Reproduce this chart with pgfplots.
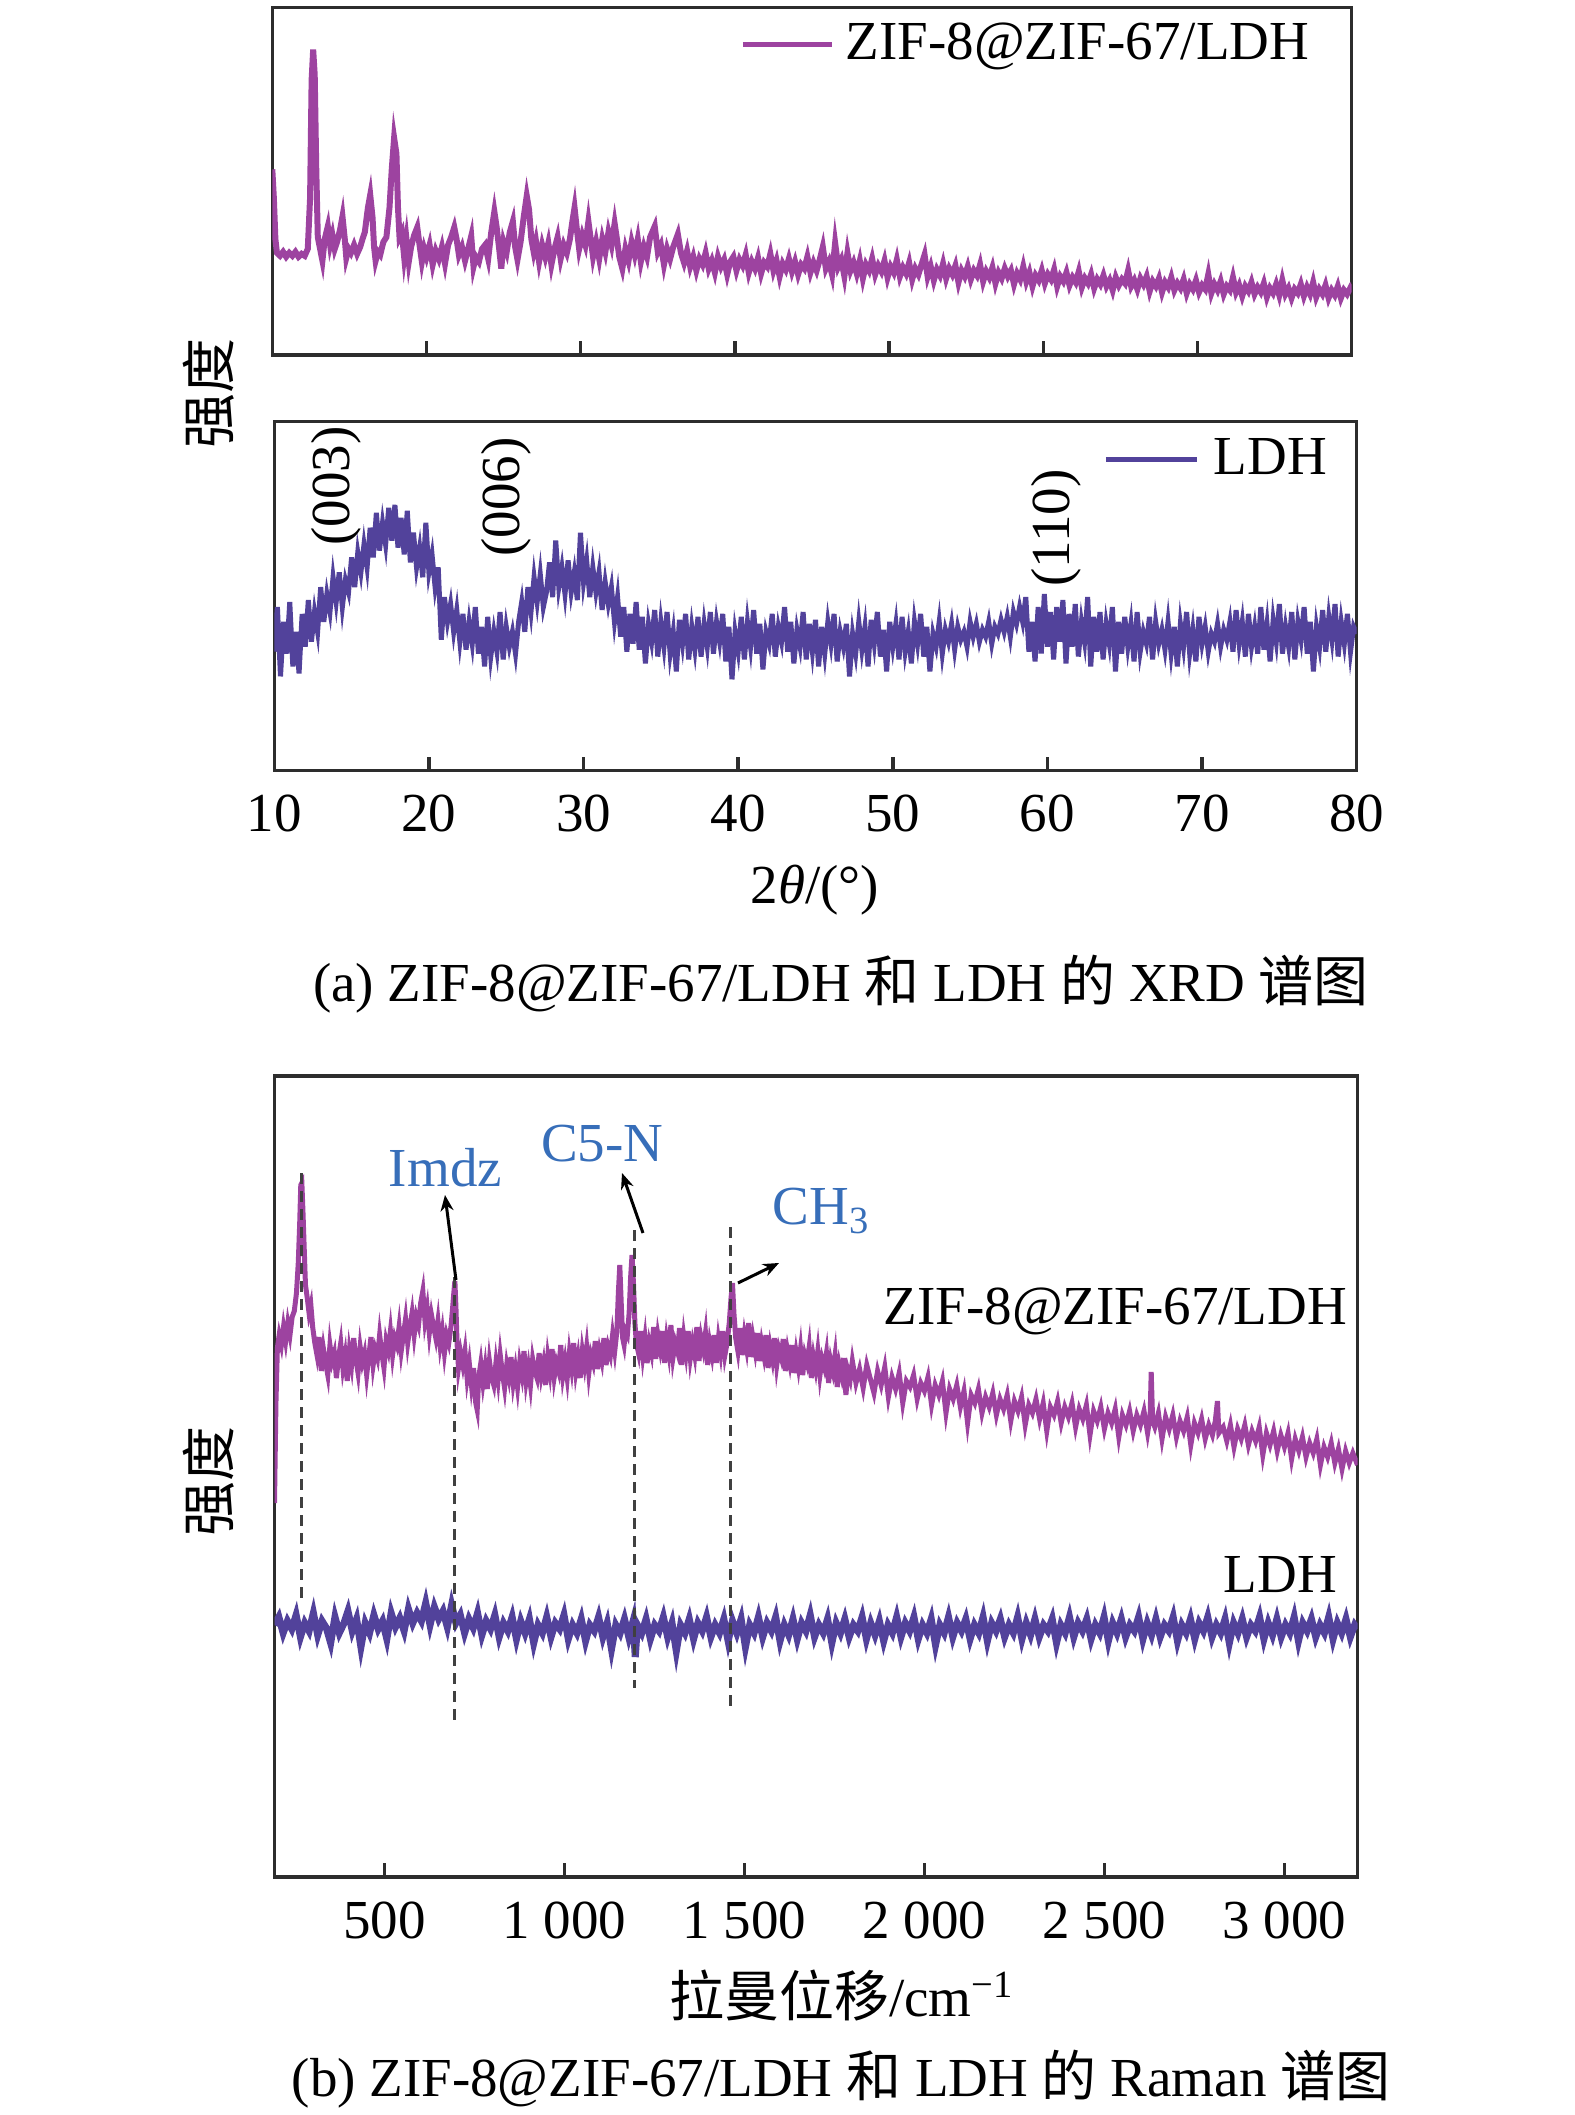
\documentclass[border=0pt]{standalone}
\usepackage{fontspec}
\setmainfont{Liberation Serif}
\newfontfamily\cjk{Noto Sans CJK SC}
\usepackage{pgfplots}
\pgfplotsset{compat=1.18}
\usetikzlibrary{arrows.meta}
\definecolor{zif}{RGB}{157,67,160}
\definecolor{ldh}{RGB}{82,66,155}
\definecolor{annb}{RGB}{55,110,185}
\definecolor{frame}{RGB}{45,45,45}
\pgfplotsset{
  common/.style={
    scale only axis,
    axis line style={frame, line width=0.7pt},
    ytick=\empty,
    tick align=inside,
    xtick pos=bottom,
    major tick length=2.8pt,
    tick style={frame, line width=0.7pt},
    tick label style={font=\fontsize{11}{13}\selectfont},
    anchor=south west,
  }
}
\begin{document}
\begin{tikzpicture}[font=\fontsize{11}{13}\selectfont]
\useasboundingbox (0,0) rectangle (315pt,-423pt);

% ---------- top XRD panel ----------
\begin{axis}[common, at={(54.46pt,-71.0pt)}, width=215.88pt, height=69.54pt,
  xmin=10, xmax=80, ymin=0, ymax=354,
  xtick={20,30,40,50,60,70}, xticklabels={}]
\addplot[zif, line width=1.2pt] coordinates {
(10.0,189)(10.1,160)(10.2,118)(10.3,104)(10.5,101)(10.7,105)(10.9,100)(11.1,104)(11.3,101)(11.5,105)(11.7,100)(11.9,103)(12.1,101)(12.3,108)
(12.45,160)(12.55,280)(12.65,311)(12.75,285)(12.85,190)(12.95,120)(13.1,108)(13.25,96)(13.4,118)(13.6,131)(13.75,112)(13.9,122)(14.05,108)
(14.2,115)(14.4,128)(14.55,141)(14.7,118)(14.8,99)(14.95,108)(15.1,104)(15.3,112)(15.5,103)(15.7,110)(15.85,118)(16.0,125)(16.2,150)(16.35,163)
(16.5,140)(16.6,110)(16.7,96)(16.85,105)(17.0,102)(17.2,115)(17.4,120)(17.6,150)(17.75,190)(17.9,221)(18.05,205)(18.15,150)(18.25,120)(18.4,125)
(18.55,100)(18.7,118)(18.85,95)(19.0,110)(19.2,122)(19.4,130)(19.55,112)(19.7,95)(19.85,108)(20.0,100)(20.2,112)(20.4,92)(20.6,106)(20.8,98)
(21.0,110)(21.2,93)(21.4,112)(21.6,120)(21.8,130)(21.95,118)(22.1,102)(22.3,110)(22.5,96)(22.7,108)(22.9,121)(23.05,90)(23.2,100)(23.4,95)
(23.6,108)(23.8,112)(24.0,98)(24.2,125)(24.4,146)(24.55,130)(24.7,110)(24.85,88)(25.0,115)(25.2,105)(25.4,125)(25.6,136)(25.75,110)(25.9,97)
(26.1,115)(26.3,140)(26.5,162)(26.65,148)(26.8,118)(26.95,105)(27.1,116)(27.3,95)(27.5,112)(27.7,100)(27.9,114)(28.1,92)(28.3,108)(28.5,120)
(28.7,98)(28.9,112)(29.1,104)(29.3,118)(29.45,135)(29.6,150)(29.75,128)(29.9,108)(30.1,122)(30.3,112)(30.5,136)(30.65,118)(30.8,100)(31.0,115)
(31.2,98)(31.4,118)(31.6,105)(31.8,125)(32.0,112)(32.2,134)(32.35,118)(32.5,100)(32.7,88)(32.9,108)(33.1,96)(33.3,115)(33.5,102)(33.7,118)
(33.9,95)(34.1,110)(34.3,100)(34.5,120)(34.8,131)(35.0,105)(35.2,112)(35.4,92)(35.6,108)(35.8,98)(36.0,110)(36.3,123)(36.5,104)(36.7,94)
(36.9,106)(37.1,90)(37.3,100)(37.5,86)(37.7,98)(37.9,92)(38.1,104)(38.3,88)(38.5,96)(38.7,84)(38.9,100)(39.1,90)(39.3,97)(39.5,82)(39.7,95)
(39.9,100)(40.1,86)(40.3,97)(40.5,91)(40.7,102)(40.9,84)(41.1,95)(41.3,88)(41.5,99)(41.7,83)(41.9,94)(42.1,90)(42.3,103)(42.5,86)(42.7,96)
(42.9,80)(43.1,93)(43.3,87)(43.5,98)(43.7,85)(43.9,95)(44.1,82)(44.3,92)(44.5,88)(44.7,100)(44.9,84)(45.1,94)(45.3,86)(45.5,97)(45.7,110)
(45.9,88)(46.1,95)(46.3,82)(46.5,114)(46.7,90)(46.9,97)(47.1,80)(47.3,104)(47.5,86)(47.7,94)(47.9,83)(48.1,96)(48.3,78)(48.5,92)(48.7,86)
(48.9,98)(49.1,82)(49.3,91)(49.5,85)(49.7,96)(49.9,79)(50.1,90)(50.3,84)(50.5,97)(50.7,80)(50.9,89)(51.1,83)(51.3,94)(51.5,77)(51.7,88)
(51.9,82)(52.1,92)(52.3,102)(52.5,80)(52.7,90)(52.9,76)(53.1,87)(53.3,81)(53.5,93)(53.7,78)(53.9,88)(54.1,82)(54.3,91)(54.5,74)(54.7,86)
(54.9,80)(55.1,90)(55.3,77)(55.5,86)(55.7,81)(55.9,92)(56.1,75)(56.3,85)(56.5,79)(56.7,89)(56.9,73)(57.1,84)(57.3,78)(57.5,88)(57.7,80)
(57.9,86)(58.1,72)(58.3,83)(58.5,77)(58.7,90)(58.9,75)(59.1,84)(59.3,70)(59.5,81)(59.7,76)(59.9,86)(60.1,73)(60.3,82)(60.5,77)(60.7,87)
(60.9,70)(61.1,80)(61.3,75)(61.5,84)(61.7,71)(61.9,79)(62.1,74)(62.3,85)(62.5,69)(62.7,78)(62.9,73)(63.1,82)(63.3,68)(63.5,77)(63.7,72)
(63.9,81)(64.1,70)(64.3,76)(64.5,66)(64.7,79)(64.9,71)(65.1,77)(65.3,73)(65.5,86)(65.7,70)(65.9,76)(66.1,67)(66.3,78)(66.5,72)(66.7,80)
(66.9,65)(67.1,75)(67.3,70)(67.5,78)(67.7,64)(67.9,74)(68.1,69)(68.3,79)(68.5,66)(68.7,73)(68.9,68)(69.1,77)(69.3,63)(69.5,72)(69.7,67)
(69.9,76)(70.1,64)(70.3,71)(70.5,67)(70.7,82)(70.9,63)(71.1,72)(71.3,66)(71.5,75)(71.7,62)(71.9,70)(72.1,66)(72.3,79)(72.5,64)(72.7,71)
(72.9,60)(73.1,70)(73.3,65)(73.5,74)(73.7,62)(73.9,69)(74.1,64)(74.3,73)(74.5,59)(74.7,68)(74.9,63)(75.1,72)(75.3,61)(75.5,76)(75.7,62)
(75.9,68)(76.1,58)(76.3,67)(76.5,63)(76.7,72)(76.9,60)(77.1,69)(77.3,62)(77.5,74)(77.7,59)(77.9,67)(78.1,62)(78.3,71)(78.5,58)(78.7,66)
(78.9,61)(79.1,70)(79.3,58)(79.5,66)(79.7,62)(79.9,68)(80.0,65)
};
\end{axis}

% ---------- bottom XRD panel ----------
\begin{axis}[common, at={(54.86pt,-154.1pt)}, width=216.48pt, height=69.76pt,
  xmin=10, xmax=80, ymin=0, ymax=352,
  xtick={10,20,30,40,50,60,70,80}, xticklabels={10,20,30,40,50,60,70,80},
  xticklabel style={anchor=base, yshift=-12.2pt}]
\addplot[ldh, line width=1pt] coordinates {
(10.0,120)(10.2,165)(10.4,95)(10.6,150)(10.8,118)(11.0,170)(11.2,105)(11.4,140)(11.6,98)(11.8,158)(12.0,125)(12.2,172)(12.4,130)(12.6,160)
(12.8,140)(13.0,185)(13.2,150)(13.4,178)(13.6,160)(13.8,195)(14.0,170)(14.2,200)(14.4,165)(14.6,192)(14.8,180)(15.0,215)(15.2,185)(15.4,220)
(15.6,200)(15.8,228)(16.0,205)(16.2,245)(16.4,215)(16.6,260)(16.8,222)(17.0,250)(17.2,228)(17.4,265)(17.6,232)(17.8,268)(18.0,225)(18.2,255)
(18.4,218)(18.6,262)(18.8,210)(19.0,240)(19.2,205)(19.4,225)(19.6,195)(19.8,250)(20.0,200)(20.2,218)(20.4,185)(20.6,205)(20.8,132)(21.0,175)
(21.2,150)(21.4,168)(21.6,140)(21.8,162)(22.0,130)(22.2,158)(22.4,122)(22.6,150)(22.8,128)(23.0,165)(23.2,118)(23.4,145)(23.6,105)(23.8,155)
(24.0,115)(24.2,140)(24.4,120)(24.6,160)(24.8,112)(25.0,145)(25.2,125)(25.4,140)(25.6,118)(25.8,150)(26.0,170)(26.2,140)(26.4,185)(26.6,160)
(26.8,195)(27.0,170)(27.2,198)(27.4,165)(27.6,180)(27.8,210)(28.0,175)(28.2,232)(28.4,185)(28.6,205)(28.8,178)(29.0,212)(29.2,180)(29.4,200)
(29.6,172)(29.8,240)(30.0,190)(30.2,212)(30.4,175)(30.6,205)(30.8,180)(31.0,200)(31.2,162)(31.4,190)(31.6,168)(31.8,185)(32.0,150)(32.2,175)
(32.4,135)(32.6,165)(32.8,120)(33.0,158)(33.2,128)(33.4,170)(33.6,122)(33.8,155)(34.0,108)(34.2,148)(34.4,130)(34.6,162)(34.8,115)(35.0,150)
(35.2,125)(35.4,160)(35.6,118)(35.8,140)(36.0,100)(36.2,152)(36.4,128)(36.6,158)(36.8,112)(37.0,145)(37.2,122)(37.4,155)(37.6,115)(37.8,148)
(38.0,125)(38.2,160)(38.4,118)(38.6,150)(38.8,130)(39.0,158)(39.2,110)(39.4,145)(39.6,92)(39.8,140)(40.0,120)(40.2,155)(40.4,112)(40.6,150)
(40.8,125)(41.0,162)(41.2,118)(41.4,148)(41.6,102)(41.8,140)(42.0,128)(42.2,158)(42.4,115)(42.6,145)(42.8,130)(43.0,165)(43.2,120)(43.4,150)
(43.6,108)(43.8,142)(44.0,125)(44.2,160)(44.4,112)(44.6,148)(44.8,120)(45.0,152)(45.2,105)(45.4,145)(45.6,118)(45.8,150)(46.0,128)(46.2,158)
(46.4,110)(46.6,140)(46.8,125)(47.0,148)(47.2,95)(47.4,138)(47.6,118)(47.8,150)(48.0,122)(48.2,145)(48.4,105)(48.6,152)(48.8,128)(49.0,160)
(49.2,115)(49.4,142)(49.6,100)(49.8,150)(50.0,125)(50.2,148)(50.4,112)(50.6,155)(50.8,120)(51.0,140)(51.2,108)(51.4,150)(51.6,128)(51.8,158)
(52.0,115)(52.2,145)(52.4,100)(52.6,138)(52.8,125)(53.0,150)(53.2,118)(53.4,142)(53.6,130)(53.8,148)(54.0,122)(54.2,145)(54.4,132)(54.6,140)
(54.8,125)(55.0,150)(55.2,135)(55.4,148)(55.6,130)(55.8,142)(56.0,135)(56.2,150)(56.4,128)(56.6,145)(56.8,138)(57.0,152)(57.2,140)(57.4,155)
(57.6,135)(57.8,160)(58.0,148)(58.2,165)(58.4,150)(58.6,175)(58.8,120)(59.0,150)(59.2,110)(59.4,165)(59.6,118)(59.8,178)(60.0,125)(60.2,160)
(60.4,112)(60.6,165)(60.8,130)(61.0,172)(61.2,108)(61.4,158)(61.6,125)(61.8,168)(62.0,115)(62.2,150)(62.4,130)(62.6,175)(62.8,105)(63.0,155)
(63.2,120)(63.4,160)(63.6,112)(63.8,148)(64.0,128)(64.2,165)(64.4,100)(64.6,150)(64.8,118)(65.0,155)(65.2,125)(65.4,148)(65.6,110)(65.8,160)
(66.0,120)(66.2,140)(66.4,128)(66.6,155)(66.8,112)(67.0,150)(67.2,128)(67.4,142)(67.6,122)(67.8,150)(68.0,118)(68.2,145)(68.4,105)(68.6,148)
(68.8,125)(69.0,160)(69.2,118)(69.4,142)(69.6,110)(69.8,155)(70.0,128)(70.2,145)(70.4,120)(70.6,138)(70.8,130)(71.0,148)(71.2,125)(71.4,142)
(71.6,132)(71.8,150)(72.0,120)(72.2,162)(72.4,128)(72.6,150)(72.8,115)(73.0,158)(73.2,125)(73.4,145)(73.6,118)(73.8,165)(74.0,122)(74.2,148)
(74.4,110)(74.6,152)(74.8,130)(75.0,168)(75.2,118)(75.4,145)(75.6,125)(75.8,160)(76.0,112)(76.2,150)(76.4,132)(76.6,165)(76.8,118)(77.0,150)
(77.2,100)(77.4,145)(77.6,125)(77.8,162)(78.0,120)(78.2,155)(78.4,132)(78.6,168)(78.8,115)(79.0,150)(79.2,128)(79.4,158)(79.6,120)(79.8,145)
(80.0,138)
};
\end{axis}

% ---------- Raman panel ----------
\begin{axis}[common, at={(54.9pt,-375.4pt)}, width=216.6pt, height=160.2pt,
  xmin=195, xmax=3203, ymin=6, ymax=807,
  xtick={500,1000,1500,2000,2500,3000},
  xticklabels={500,1 000,1 500,2 000,2 500,3 000},
  xticklabel style={anchor=base, yshift=-12.2pt}]
\addplot[zif, line width=1pt] coordinates {
(195,380)(199,480)(203,535)(208,548)(214,538)(220,556)(226,542)(232,560)(238,548)(244,566)(250,572)(256,590)(261,620)(265,660)(268,698)
(271,700)(274,672)(277,640)(281,598)(286,585)(291,570)(296,578)(301,556)(307,540)(313,528)(319,546)(325,512)(331,534)(337,520)(343,508)
(349,538)(355,522)(361,530)(367,505)(373,526)(379,540)(385,515)(391,528)(397,502)(403,532)(409,518)(415,545)(421,524)(427,510)(433,536)
(439,521)(445,530)(451,508)(457,527)(463,546)(469,518)(475,533)(481,525)(487,548)(493,530)(499,515)(505,542)(511,533)(517,552)(523,528)
(529,545)(535,538)(541,556)(547,532)(553,548)(559,564)(565,540)(571,556)(577,570)(583,548)(589,566)(595,558)(601,580)(607,592)(613,562)
(619,575)(625,550)(631,568)(637,556)(643,545)(649,562)(655,538)(661,552)(667,530)(673,548)(679,540)(685,556)(689,572)(693,590)(696,602)
(699,575)(702,540)(706,515)(712,530)(718,518)(724,532)(730,505)(736,520)(742,498)(748,515)(754,480)(758,473)(762,505)(768,520)(774,500)
(780,516)(786,494)(792,522)(798,506)(804,498)(810,520)(816,503)(822,528)(828,510)(834,495)(840,518)(846,506)(852,526)(858,500)(864,514)
(870,496)(876,520)(882,508)(888,532)(894,502)(900,516)(906,498)(912,524)(918,512)(924,505)(930,530)(936,508)(942,520)(948,498)(954,526)
(960,511)(966,534)(972,506)(978,520)(984,512)(990,538)(996,508)(1002,522)(1008,505)(1014,530)(1020,515)(1026,540)(1032,512)(1038,526)
(1044,505)(1050,532)(1056,518)(1062,536)(1068,510)(1074,528)(1080,520)(1086,542)(1092,514)(1098,532)(1104,522)(1110,545)(1116,518)(1122,536)
(1128,528)(1134,548)(1140,532)(1146,552)(1150,590)(1154,618)(1158,580)(1162,545)(1166,538)(1170,552)(1175,548)(1180,570)(1184,605)(1188,628)
(1192,600)(1196,560)(1200,540)(1206,530)(1212,552)(1218,528)(1224,545)(1230,520)(1236,540)(1242,530)(1248,556)(1254,524)(1260,548)(1266,535)
(1272,552)(1278,520)(1284,544)(1290,530)(1296,558)(1302,526)(1308,540)(1314,532)(1320,555)(1326,518)(1332,546)(1338,530)(1344,552)(1350,525)
(1356,540)(1362,528)(1368,556)(1374,522)(1380,545)(1386,534)(1392,550)(1398,518)(1404,540)(1410,528)(1416,548)(1422,520)(1428,544)(1434,530)
(1440,552)(1446,528)(1452,540)(1458,560)(1463,585)(1467,600)(1471,570)(1476,545)(1482,532)(1488,555)(1494,528)(1500,548)(1506,535)(1512,560)
(1518,526)(1524,545)(1530,532)(1536,550)(1542,522)(1548,540)(1554,528)(1560,548)(1566,515)(1572,536)(1578,524)(1584,545)(1590,518)(1596,534)
(1602,526)(1608,544)(1614,512)(1620,532)(1626,520)(1632,538)(1638,510)(1644,530)(1650,516)(1656,534)(1662,508)(1668,528)(1674,520)(1680,536)
(1686,505)(1692,526)(1698,514)(1704,532)(1710,508)(1716,524)(1722,516)(1728,530)(1734,500)(1740,522)(1746,512)(1752,528)(1758,496)(1764,518)
(1770,508)(1776,525)(1782,488)(1788,512)(1794,504)(1800,522)(1810,500)(1820,514)(1830,495)(1840,518)(1850,504)(1860,490)(1870,512)(1880,498)
(1890,516)(1900,486)(1910,506)(1920,494)(1930,510)(1940,480)(1950,502)(1960,496)(1970,508)(1980,484)(1990,500)(2000,492)(2010,506)(2020,478)
(2030,498)(2040,488)(2050,502)(2060,470)(2070,494)(2080,484)(2090,498)(2100,476)(2110,492)(2120,460)(2130,488)(2140,480)(2150,494)(2160,470)
(2170,486)(2180,476)(2190,490)(2200,468)(2210,484)(2220,474)(2230,488)(2240,462)(2250,482)(2260,472)(2270,486)(2280,458)(2290,478)(2300,470)
(2310,484)(2320,464)(2330,480)(2340,452)(2350,476)(2360,468)(2370,482)(2380,460)(2390,476)(2400,466)(2410,480)(2420,456)(2430,474)(2440,464)
(2450,478)(2460,448)(2470,472)(2480,462)(2490,476)(2500,454)(2510,470)(2520,460)(2530,474)(2540,446)(2550,468)(2560,458)(2570,472)(2580,452)
(2590,468)(2600,458)(2610,472)(2620,450)(2627,466)(2630,511)(2634,462)(2640,456)(2650,470)(2660,444)(2670,466)(2680,454)(2690,468)(2700,446)
(2710,462)(2720,452)(2730,466)(2740,438)(2750,460)(2760,450)(2770,464)(2780,444)(2790,458)(2800,448)(2808,462)(2814,482)(2818,450)(2830,456)
(2840,442)(2850,458)(2860,436)(2870,454)(2880,444)(2890,458)(2900,438)(2910,452)(2920,442)(2930,456)(2940,428)(2950,450)(2960,438)(2970,452)
(2980,432)(2990,448)(3000,436)(3010,450)(3020,424)(3030,444)(3040,432)(3050,446)(3060,426)(3070,440)(3080,430)(3090,444)(3100,418)(3110,436)
(3120,426)(3130,440)(3140,420)(3150,434)(3160,414)(3170,432)(3180,420)(3190,430)(3203,418)
};
\addplot[ldh, line width=1.4pt] coordinates {
(195,258)(207,266)(219,250)(231,262)(243,254)(255,268)(267,246)(279,260)(291,252)(303,270)(315,248)(327,262)(339,255)(351,240)(363,266)
(375,250)(387,259)(399,272)(411,252)(423,264)(435,236)(447,260)(459,250)(471,268)(483,254)(495,262)(507,244)(519,270)(531,256)(543,265)
(555,252)(567,274)(579,260)(591,270)(603,262)(615,280)(627,258)(639,276)(651,264)(663,272)(675,256)(687,278)(699,260)(711,268)(723,250)
(735,264)(747,255)(759,270)(771,248)(783,262)(795,254)(807,268)(819,246)(831,260)(843,252)(855,266)(867,244)(879,262)(891,250)(903,264)
(915,240)(927,258)(939,250)(951,266)(963,246)(975,260)(987,254)(999,268)(1011,244)(1023,258)(1035,250)(1047,264)(1059,242)(1071,258)
(1083,252)(1095,266)(1107,246)(1119,260)(1131,234)(1143,258)(1155,250)(1167,264)(1179,246)(1191,262)(1197,226)(1203,258)(1215,250)(1227,264)
(1239,244)(1251,258)(1263,252)(1275,266)(1287,246)(1299,260)(1311,232)(1323,258)(1335,250)(1347,264)(1359,244)(1371,260)(1383,252)(1395,266)
(1407,246)(1419,258)(1431,250)(1443,264)(1455,242)(1467,262)(1479,250)(1491,264)(1503,236)(1515,258)(1527,250)(1539,266)(1551,246)(1563,260)
(1575,252)(1587,266)(1599,242)(1611,258)(1623,248)(1635,264)(1647,244)(1659,260)(1671,252)(1683,268)(1695,246)(1707,258)(1719,250)(1731,264)
(1743,240)(1755,260)(1767,250)(1779,264)(1791,246)(1803,258)(1815,252)(1827,266)(1839,244)(1851,260)(1863,248)(1875,262)(1887,242)(1899,258)
(1911,250)(1923,266)(1935,246)(1947,260)(1959,252)(1971,266)(1983,244)(1995,258)(2007,250)(2019,264)(2031,238)(2043,258)(2055,250)(2067,266)
(2079,246)(2091,260)(2103,252)(2115,264)(2127,244)(2139,258)(2151,250)(2163,266)(2175,242)(2187,260)(2199,252)(2211,264)(2223,246)(2235,258)
(2247,250)(2259,266)(2271,244)(2283,260)(2295,248)(2307,264)(2319,246)(2331,258)(2343,252)(2355,264)(2367,240)(2379,258)(2391,250)(2403,266)
(2415,246)(2427,260)(2439,252)(2451,264)(2463,244)(2475,258)(2487,250)(2499,266)(2511,242)(2523,260)(2535,250)(2547,264)(2559,246)(2571,258)
(2583,252)(2595,266)(2607,244)(2619,260)(2631,248)(2643,264)(2655,246)(2667,258)(2679,252)(2691,266)(2703,242)(2715,258)(2727,250)(2739,264)
(2751,244)(2763,260)(2775,252)(2787,266)(2799,246)(2811,258)(2823,250)(2835,264)(2847,240)(2859,260)(2871,250)(2883,264)(2895,246)(2907,258)
(2919,252)(2931,266)(2943,244)(2955,260)(2967,248)(2979,264)(2991,246)(3003,258)(3015,250)(3027,266)(3039,242)(3051,260)(3063,252)(3075,264)
(3087,246)(3099,258)(3111,250)(3123,266)(3135,244)(3147,260)(3159,250)(3171,264)(3183,246)(3195,258)(3203,254)
};
\addplot[black!75, line width=0.6pt, dash pattern=on 2.2pt off 1.4pt] coordinates {(271,710) (271,283)};
\addplot[black!75, line width=0.6pt, dash pattern=on 2.2pt off 1.4pt] coordinates {(696,606) (696,160)};
\addplot[black!75, line width=0.6pt, dash pattern=on 2.2pt off 1.4pt] coordinates {(1196,653) (1196,195)};
\addplot[black!75, line width=0.6pt, dash pattern=on 2.2pt off 1.4pt] coordinates {(1462,656) (1462,176)};
\end{axis}

% ---------- texts (coordinates in reference pixels) ----------
\begin{scope}[x=0.2pt, y=-0.2pt]
\draw[zif, line width=1pt] (743,45) -- (832,45);
\node[anchor=base west, inner sep=0pt] at (845,60) {ZIF-8@ZIF-67/LDH};
\draw[ldh, line width=1pt] (1106,460) -- (1197,460);
\node[anchor=base west, inner sep=0pt] at (1213,474) {LDH};
\node[rotate=90, inner sep=0pt] at (336,486) {(003)};
\node[rotate=90, inner sep=0pt] at (506,497) {(006)};
\node[rotate=90, inner sep=0pt] at (1056,528) {(110)};
\node[rotate=90, inner sep=0pt, font=\fontsize{11}{13}\cjk] at (209,394) {强度};
\node[rotate=90, inner sep=0pt, font=\fontsize{11}{13}\cjk] at (209,1482) {强度};
\node[anchor=base, inner sep=0pt] at (815,904) {2\textit{θ}/(°)};
\node[anchor=base, inner sep=0pt] at (841,1002) {(a) ZIF-8@ZIF-67/LDH {\cjk 和} LDH {\cjk 的} XRD {\cjk 谱图}};
\node[anchor=base, inner sep=0pt] at (842,2017) {{\cjk 拉曼位移}/cm\textsuperscript{−1}};
\node[anchor=base, inner sep=0pt] at (841,2097) {(b) ZIF-8@ZIF-67/LDH {\cjk 和} LDH {\cjk 的} Raman {\cjk 谱图}};
\node[anchor=base west, inner sep=0pt, text=annb] at (388,1187) {Imdz};
\node[anchor=base west, inner sep=0pt, text=annb] at (540,1162) {C5-N};
\node[anchor=base west, inner sep=0pt, text=annb] at (772,1225) {CH\textsubscript{3}};
\node[anchor=base east, inner sep=0pt] at (1348,1325) {ZIF-8@ZIF-67/LDH};
\node[anchor=base east, inner sep=0pt] at (1338,1593) {LDH};
\draw[black, line width=0.6pt, -{Stealth[length=3.2pt, width=2.6pt]}] (456,1280) -- (445,1195);
\draw[black, line width=0.6pt, -{Stealth[length=3.2pt, width=2.6pt]}] (643,1233) -- (622,1173);
\draw[black, line width=0.6pt, -{Stealth[length=3.2pt, width=2.6pt]}] (738,1283) -- (779,1263);
\end{scope}
\end{tikzpicture}
\end{document}
